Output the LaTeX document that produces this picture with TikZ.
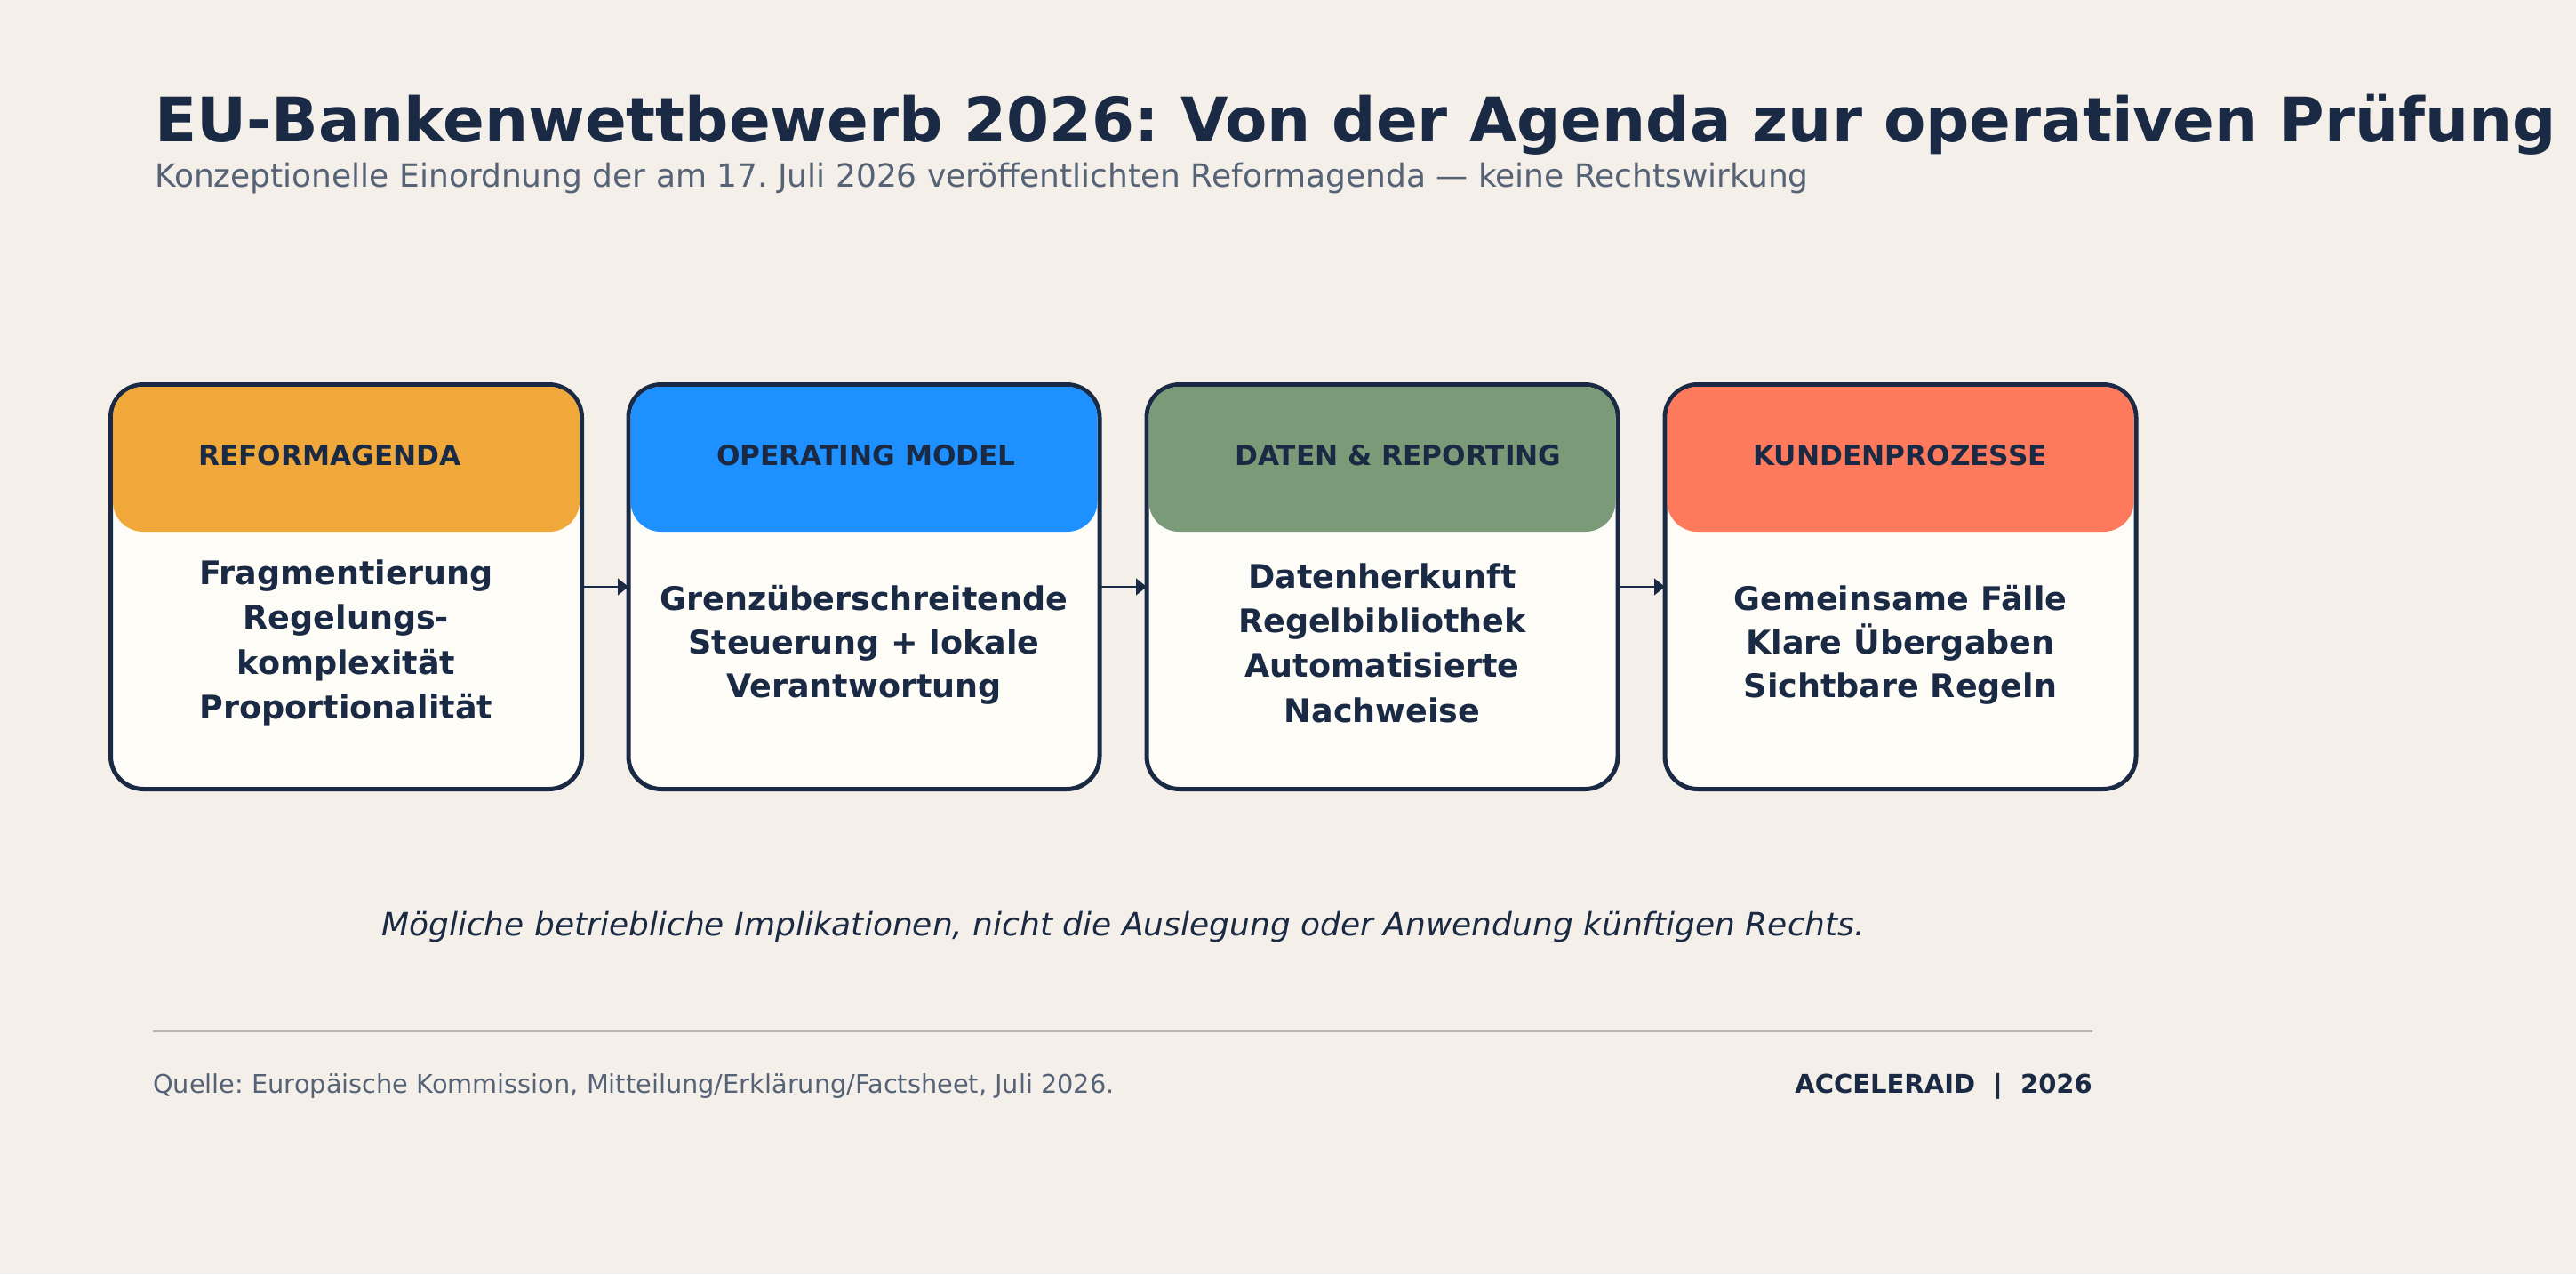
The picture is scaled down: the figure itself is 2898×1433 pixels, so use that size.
\documentclass[tikz,border=0pt]{standalone}
\usepackage{fontspec}
\setmainfont{DejaVu Sans}
\frenchspacing
\usetikzlibrary{calc}
\usetikzlibrary{arrows.meta}

\definecolor{navy}{HTML}{1B2A44}
\definecolor{slate}{HTML}{566377}
\definecolor{paper}{HTML}{F4F0E9}
\definecolor{cardfill}{HTML}{FDFCF7}
\definecolor{rulegray}{HTML}{B4B4B2}
\definecolor{bandorange}{HTML}{F1A83B}
\definecolor{bandblue}{HTML}{1E90FF}
\definecolor{bandgreen}{HTML}{7A9A78}
\definecolor{bandcoral}{HTML}{FF7A5C}

\tikzset{
	card/.style={draw=navy,line width=5pt,fill=cardfill,rounded corners=37pt,minimum width=530pt,minimum height=455pt,inner sep=0pt,outer sep=0pt},
	band/.style={rounded corners=34pt},
	headline/.style={anchor=base west,inner sep=0pt,text=navy,font=\bfseries\fontsize{31.2}{38}\selectfont},
	bodytext/.style={align=center,inner sep=0pt,text=navy,font=\bfseries\fontsize{36.5}{49}\selectfont},
	flow/.style={draw=navy,line width=1.5pt,-{Triangle[length=12pt,width=19pt]}}
}

\begin{document}
\begin{tikzpicture}[x=1pt,y=-1pt]

	\fill[paper] (0,0) rectangle (2898,1433);
	\useasboundingbox (0,0) rectangle (2898,1433);

	\node[anchor=base west,inner sep=0pt,text=navy,font=\bfseries\fontsize{69}{80}\selectfont] (title) at (174,159) {EU-Bankenwettbewerb 2026: Von der Agenda zur operativen Prüfung};
	\node[anchor=base west,inner sep=0pt,text=slate,font=\fontsize{36}{42}\selectfont] (subtitle) at (174,210) {Konzeptionelle Einordnung der am 17. Juli 2026 veröffentlichten Reformagenda — keine Rechtswirkung};

	\node[card] (c1) at (389.5,660) {};
	\node[card] (c2) at (972,660) {};
	\node[card] (c3) at (1555,660) {};
	\node[card] (c4) at (2138,660) {};

	\fill[band,bandorange] ($(c1.north west)+(2.5,2.5)$) rectangle ($(c1.north east)+(-2.5,165.5)$);
	\fill[band,bandblue] ($(c2.north west)+(2.5,2.5)$) rectangle ($(c2.north east)+(-2.5,165.5)$);
	\fill[band,bandgreen] ($(c3.north west)+(2.5,2.5)$) rectangle ($(c3.north east)+(-2.5,165.5)$);
	\fill[band,bandcoral] ($(c4.north west)+(2.5,2.5)$) rectangle ($(c4.north east)+(-2.5,165.5)$);

	\node[headline] (h1) at (223,523) {REFORMAGENDA};
	\node[headline] (h2) at (806,523) {OPERATING MODEL};
	\node[headline] (h3) at (1389,523) {DATEN \& REPORTING};
	\node[headline] (h4) at (1972,523) {KUNDENPROZESSE};

	\node[bodytext,font=\bfseries\fontsize{36.5}{50.3}\selectfont] (b1) at (389.5,723) {Fragmentierung\\Regelungs-\\komplexität\\Proportionalität};
	\node[bodytext] (b2) at (972,725.5) {Grenzüberschreitende\\Steuerung + lokale\\Verantwortung};
	\node[bodytext,font=\bfseries\fontsize{36.5}{50.3}\selectfont] (b3) at (1555,723) {Datenherkunft\\Regelbibliothek\\Automatisierte\\Nachweise};
	\node[bodytext] (b4) at (2138,725.5) {Gemeinsame Fälle\\Klare Übergaben\\Sichtbare Regeln};

	\draw[flow] (c1.east) -- (c2.west);
	\draw[flow] (c2.east) -- (c3.west);
	\draw[flow] (c3.east) -- (c4.west);

	\node[anchor=base,inner sep=0pt,text=navy,font=\itshape\fontsize{36}{42}\selectfont] (note) at (1263.5,1052) {Mögliche betriebliche Implikationen, nicht die Auslegung oder Anwendung künftigen Rechts.};

	\draw[rulegray,line width=2pt] (172,1160) coordinate (rl) -- (2354,1160) coordinate (rr);

	\node[anchor=base west,inner sep=0pt,text=slate,font=\fontsize{28.8}{34}\selectfont] (source) at (172,1229) {Quelle: Europäische Kommission, Mitteilung/Erklärung/Factsheet, Juli 2026.};
	\node[anchor=base east,inner sep=0pt,text=navy,font=\bfseries\fontsize{29}{34}\selectfont] (brand) at (2354,1229) {ACCELERAID\ \ |\ \ 2026};

\end{tikzpicture}
\end{document}
